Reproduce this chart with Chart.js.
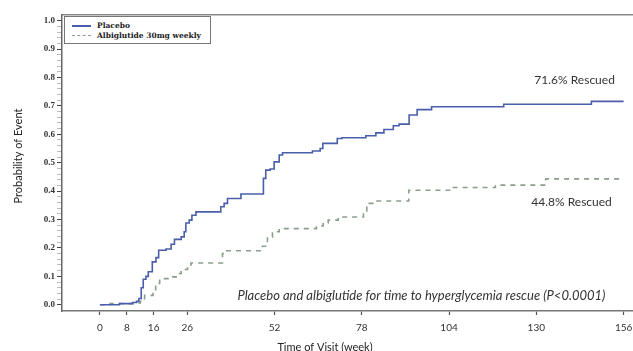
<!DOCTYPE html>
<html>
<head>
<meta charset="utf-8">
<script src="https://cdn.jsdelivr.net/npm/chart.js@4.4.1/dist/chart.umd.min.js"></script>
<style>
  html, body { margin: 0; padding: 0; background: #fff; overflow: hidden; }
  #wrap { position: relative; width: 633px; height: 351px; overflow: hidden; }
  #chart { position: absolute; left: 0; top: 0; }
  #legend { position: absolute; left: 64px; top: 16px; width: 145px; height: 26px; border: 1px solid #777; background: #fff;
            font: bold 7.5px "DejaVu Serif"; color: #222; }
  .row { position: absolute; left: 0; width: 145px; height: 10px; }
  .swatch { position: absolute; left: 7px; top: 4px; width: 19px; height: 0; }
  .lab { position: absolute; left: 32px; top: 0; line-height: 10px; white-space: nowrap; }
</style>
</head>
<body>
<div id="wrap">
  <canvas id="chart" width="633" height="360"></canvas>
  <div id="legend">
    <div class="row" style="top:4px"><span class="swatch" style="border-top:2px solid #4a5fab"></span><span class="lab">Placebo</span></div>
    <div class="row" style="top:14px"><span class="swatch" style="border-top:1.5px dashed #8a9f8b"></span><span class="lab">Albiglutide 30mg weekly</span></div>
  </div>
</div>
<script>
// данные
const placeboWeeks = [0, 5.8, 9.7, 10.9, 11.6, 12.3, 12.9, 13.7, 14.4, 15.6, 16.7, 17.5, 19.7, 21.2, 22.2, 24.2, 25.1, 25.6, 26.6, 27.4, 28.6,
  36.0, 37.0, 38.0, 42.0, 48.7, 49.4, 50.7, 51.9, 53.4, 54.4, 63.3, 65.6, 66.4, 70.7, 72.1, 79.2, 82.2, 84.6, 87.4, 89.1, 92.1, 94.5, 98.8,
  120.3, 146.4, 156];
const placeboProb = [0, 0.004, 0.008, 0.012, 0.022, 0.06, 0.09, 0.10, 0.116, 0.151, 0.166, 0.192, 0.196, 0.213, 0.23, 0.239, 0.257, 0.288, 0.298, 0.315, 0.327,
  0.345, 0.357, 0.374, 0.390, 0.445, 0.474, 0.478, 0.503, 0.527, 0.535, 0.541, 0.55, 0.568, 0.585, 0.588, 0.595, 0.605, 0.617, 0.630, 0.636, 0.668, 0.687, 0.697,
  0.706, 0.716, 0.716];

const albiWeeks = [0, 3, 10.8, 12.0, 13.3, 15.8, 16.6, 17.8, 21.2, 22.7, 24.2, 26.1, 27.1, 36.5, 37.5, 48.4, 49.9, 51.4, 53.4,
  64.5, 66.5, 68, 71, 78.5, 79.5, 82, 92, 104.5, 117.8, 132.8, 156];
const albiProb = [0, 0.004, 0.006, 0.012, 0.033, 0.049, 0.075, 0.092, 0.098, 0.11, 0.124, 0.139, 0.147, 0.18, 0.19, 0.206, 0.239, 0.257, 0.268,
  0.277, 0.288, 0.298, 0.309, 0.33, 0.357, 0.365, 0.403, 0.413, 0.421, 0.443, 0.443];

const xTicks = [0, 8, 16, 26, 52, 78, 104, 130, 156];
const yTicks = [0.0, 0.1, 0.2, 0.3, 0.4, 0.5, 0.6, 0.7, 0.8, 0.9, 1.0];

const seriesNames = ["Placebo", "Albiglutide 30mg weekly"];
const notes = [
  { text: "71.6% Rescued", x: 141.4, y: 0.791 },
  { text: "44.8% Rescued", x: 140.5, y: 0.361 }
];
const caption = { text: "Placebo and albiglutide for time to hyperglycemia rescue (P<0.0001)", x: 150.6, y: 0.033 };

// малые деления по оси Y
const yMinor = [];
for (let i = 0; i <= 50; i++) yMinor.push(Math.round(i * 2) / 100);
const isMajor = v => Math.abs(v * 10 - Math.round(v * 10)) < 1e-6;

const toPoints = (xs, ys) => xs.map((x, i) => ({ x, y: ys[i] }));

const textPlugin = {
  id: "texts",
  afterDraw(chart) {
    const { ctx, scales: { x, y } } = chart;
    ctx.save();
    ctx.fillStyle = "#333";
    ctx.textBaseline = "middle";
    ctx.textAlign = "center";
    ctx.font = "12px Lato";
    notes.forEach(n => ctx.fillText(n.text, x.getPixelForValue(n.x), y.getPixelForValue(n.y)));
    ctx.font = "italic 13px Lato";
    ctx.textAlign = "right";
    ctx.fillText(caption.text, x.getPixelForValue(caption.x), y.getPixelForValue(caption.y));
    // подписи осей
    ctx.fillStyle = "#222";
    ctx.textAlign = "center";
    ctx.font = "11px Lato";
    ctx.fillText("Time of Visit (week)", 325, 347);
    ctx.translate(18, 156);
    ctx.rotate(-Math.PI / 2);
    ctx.fillText("Probability of Event", 0, 0);
    ctx.restore();
  }
};

new Chart(document.getElementById("chart"), {
  type: "line",
  data: {
    datasets: [
      { label: seriesNames[0], data: toPoints(placeboWeeks, placeboProb), borderColor: "#4a5fab", borderWidth: 1.6,
        stepped: true, pointRadius: 0, fill: false },
      { label: seriesNames[1], data: toPoints(albiWeeks, albiProb), borderColor: "#8a9f8b", borderWidth: 1.6,
        borderDash: [5, 5], stepped: true, pointRadius: 0, fill: false }
    ]
  },
  options: {
    responsive: false,
    animation: false,
    layout: { padding: { top: 15, left: 0, right: 0, bottom: 0 } },
    plugins: { legend: { display: false }, tooltip: { enabled: false } },
    scales: {
      x: {
        type: "linear", min: -11.3, max: 158.8,
        afterBuildTicks: s => { s.ticks = xTicks.map(v => ({ value: v })); },
        afterFit: s => { s.height = 49; s.paddingLeft = 0; s.paddingRight = 0; },
        grid: { drawOnChartArea: false, tickLength: 4, tickColor: "#555", tickWidth: 1.2 },
        border: { color: "#777", width: 1.5 },
        ticks: { padding: 7, color: "#333", font: { family: "Lato", size: 10 }, maxRotation: 0, autoSkip: false }
      },
      x2: {
        type: "linear", position: "top", min: -11.3, max: 158.8,
        afterFit: s => { s.height = 0; s.paddingLeft = 0; s.paddingRight = 0; },
        grid: { display: false, drawTicks: false },
        ticks: { display: false },
        border: { color: "#888", width: 1.5 }
      },
      y: {
        type: "linear", min: -0.022, max: 1.02,
        afterBuildTicks: s => { s.ticks = yMinor.map(v => ({ value: v })); },
        afterFit: s => { s.width = 62; s.paddingTop = 0; s.paddingBottom = 0; },
        grid: { drawOnChartArea: false, tickLength: 5,
                tickColor: c => isMajor(c.tick.value) ? "#444" : "#bbb" },
        border: { color: "#666", width: 1.5 },
        ticks: {
          padding: 2, color: "#333", autoSkip: false,
          font: { family: "Liberation Serif", size: 9, weight: "bold" },
          callback: v => (isMajor(v) && yTicks.some(t => Math.abs(t - v) < 1e-6)) ? v.toFixed(1) : ""
        }
      }
    }
  },
  plugins: [textPlugin]
});
</script>
</body>
</html>
